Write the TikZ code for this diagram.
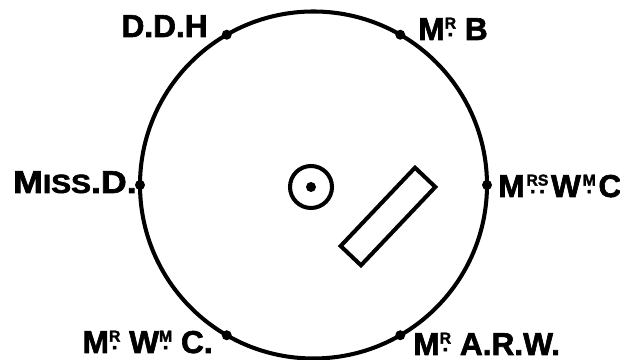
\documentclass[tikz,border=0pt]{standalone}
\usepackage{fontspec}
\setmainfont{Liberation Sans}[BoldFeatures={FakeBold=2}]
\usepackage{graphicx}
\usetikzlibrary{positioning}
% small raised letters with dots under them (Mr, Mrs, Wm)
\newcommand{\abv}[2]{\ooalign{\raisebox{0.36em}{\fontsize{9}{9}\selectfont\bfseries #1}\cr\hidewidth\raisebox{0.12em}{\fontsize{12}{12}\selectfont\bfseries #2}\hidewidth\cr}}
\newcommand{\smallcap}[1]{{\fontsize{15}{15}\selectfont #1}}

\begin{document}
\begin{tikzpicture}[
  lbl/.style={inner sep=0pt, font=\fontsize{18}{18}\selectfont\bfseries},
  bead/.style={circle, fill=black, inner sep=0pt, minimum size=0.2cm},
  ring/.style={draw=black, line width=2.3pt},
]
\useasboundingbox (0,0) rectangle (12.4,7.2);

% round table
\coordinate (ctr) at (6.27,3.5);
\draw[ring] (ctr) circle (3.47cm);

% seats
\node[bead] (ddh)  at ([shift={(120:3.47)}]ctr) {};
\node[bead] (mrb)  at ([shift={(60:3.47)}]ctr) {};
\node[bead] (missd) at ([shift={(180:3.47)}]ctr) {};
\node[bead] (mrswmc) at ([shift={(0:3.47)}]ctr) {};
\node[bead] (mrwmc) at ([shift={(240:3.47)}]ctr) {};
\node[bead] (mrarw) at ([shift={(300:3.47)}]ctr) {};

% names
\node[lbl, anchor=base east] (lddh) at ([xshift=-0.375cm, yshift=-0.045cm]ddh) {D.D.H};
\node[lbl, anchor=base west] (lmrb) at ([xshift=0.355cm, yshift=-0.105cm]mrb) {M\abv{R}{.}\;B};
\node[lbl, anchor=base east] (lmissd) at ([xshift=-0.06cm, yshift=-0.16cm]missd) {\scalebox{1.13}[1]{M\smallcap{ISS}.D.}};
\node[lbl, anchor=base west] (lmrswmc) at ([xshift=0.22cm, yshift=-0.24cm]mrswmc) {M\kern1pt\abv{RS}{.\,.}\kern1.5pt W\kern1pt\abv{M}{.}\kern1.5pt C};
\node[lbl, anchor=base east] (lmrwmc) at ([xshift=-0.275cm, yshift=-0.355cm]mrwmc) {M\abv{R}{.} W\abv{M}{.} C.};
\node[lbl, anchor=base west] (lmrarw) at ([xshift=0.255cm, yshift=-0.395cm]mrarw) {M\abv{R}{.} A.R.W.};

% centre pin and the board
\node[circle, ring, inner sep=0pt, minimum size=0.84cm] (pin) at (6.22,3.46) {};
\node[bead, minimum size=0.2cm] (pindot) at (pin.center) {};
\node[ring, rectangle, rotate=46.5, minimum width=2.16cm, minimum height=0.56cm] (board) at (7.76,2.87) {};

\end{tikzpicture}
\end{document}
